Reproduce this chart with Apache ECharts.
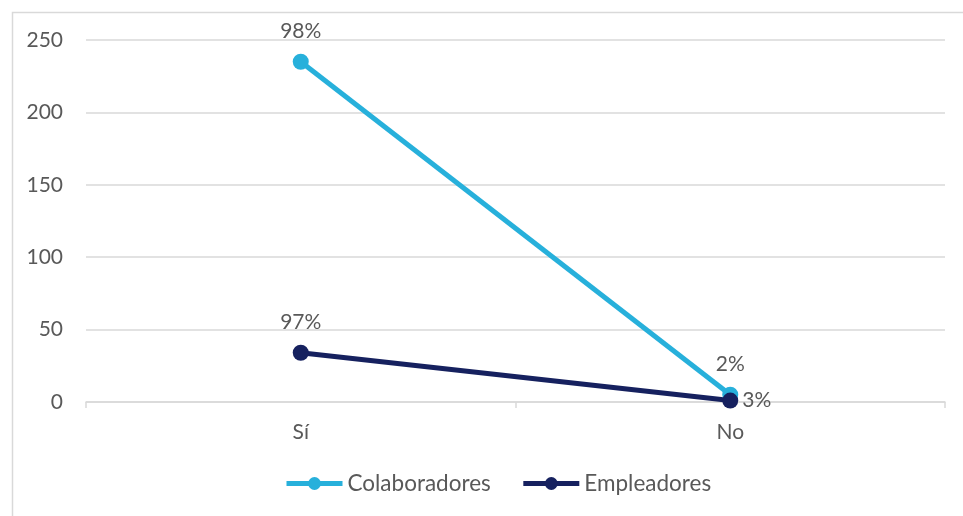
<!DOCTYPE html>
<html>
<head>
<meta charset="utf-8">
<script src="https://cdn.jsdelivr.net/npm/echarts@6/dist/echarts.min.js"></script>
<style>html,body{margin:0;padding:0;background:#fff;}#c{width:963px;height:516px;}</style>
</head>
<body>
<div id="c"></div>
<script>
var categories = ['Sí', 'No'];
var colaboradores = [235, 5];
var empleadores = [34, 1];
var colaboradoresLabels = ['98%', '2%'];
var empleadoresLabels = ['97%', '3%'];
var yTicks = [0, 50, 100, 150, 200, 250];

var font = 'Lato, "Open Sans", sans-serif';
var textColor = '#595959';
var fs = 21;
var chart = echarts.init(document.getElementById('c'));

var empData = empleadores.map(function (v, i) {
  var d = {value: v};
  if (i === 1) d.label = {position: 'right', distance: 4};
  return d;
});

chart.setOption({
  animation: false,
  graphic: [{
    type: 'rect', left: 10, top: 10, shape: {width: 1000, height: 600},
    style: {fill: 'none', stroke: '#d9d9d9', lineWidth: 1.5}, silent: true
  }],
  grid: {left: 86, right: 18, top: 40, bottom: 114},
  legend: {
    bottom: 16, left: 279, itemWidth: 56, itemHeight: 16, itemGap: 30,
    textStyle: {color: textColor, fontSize: 22.5, fontFamily: font},
    data: [
      {name: 'Colaboradores', lineStyle: {width: 5}},
      {name: 'Empleadores', lineStyle: {width: 5}}
    ]
  },
  xAxis: {
    type: 'category', data: categories, boundaryGap: true,
    axisLine: {lineStyle: {color: '#d9d9d9', width: 1.5}},
    axisTick: {show: true, length: 6, lineStyle: {color: '#d9d9d9', width: 1.5}},
    axisLabel: {color: textColor, fontSize: fs, fontFamily: font, margin: 20}
  },
  yAxis: {
    type: 'value', min: yTicks[0], max: yTicks[yTicks.length - 1], interval: 50,
    axisLine: {show: false}, axisTick: {show: false},
    splitLine: {lineStyle: {color: '#d9d9d9', width: 1.5}},
    axisLabel: {color: textColor, fontSize: fs, fontFamily: font, margin: 23}
  },
  series: [{
    name: 'Colaboradores', type: 'line', data: colaboradores,
    symbol: 'circle', symbolSize: 16,
    lineStyle: {width: 5, color: '#27B0DB'},
    itemStyle: {color: '#27B0DB'},
    label: {
      show: true, position: 'top', distance: 12, color: textColor, fontSize: fs, fontFamily: font,
      formatter: function (p) { return colaboradoresLabels[p.dataIndex]; }
    }
  }, {
    name: 'Empleadores', type: 'line', data: empData,
    symbol: 'circle', symbolSize: 16,
    lineStyle: {width: 5, color: '#16215F'},
    itemStyle: {color: '#16215F'},
    label: {
      show: true, position: 'top', distance: 12, color: textColor, fontSize: fs, fontFamily: font,
      formatter: function (p) { return empleadoresLabels[p.dataIndex]; }
    }
  }]
});
</script>
</body>
</html>
